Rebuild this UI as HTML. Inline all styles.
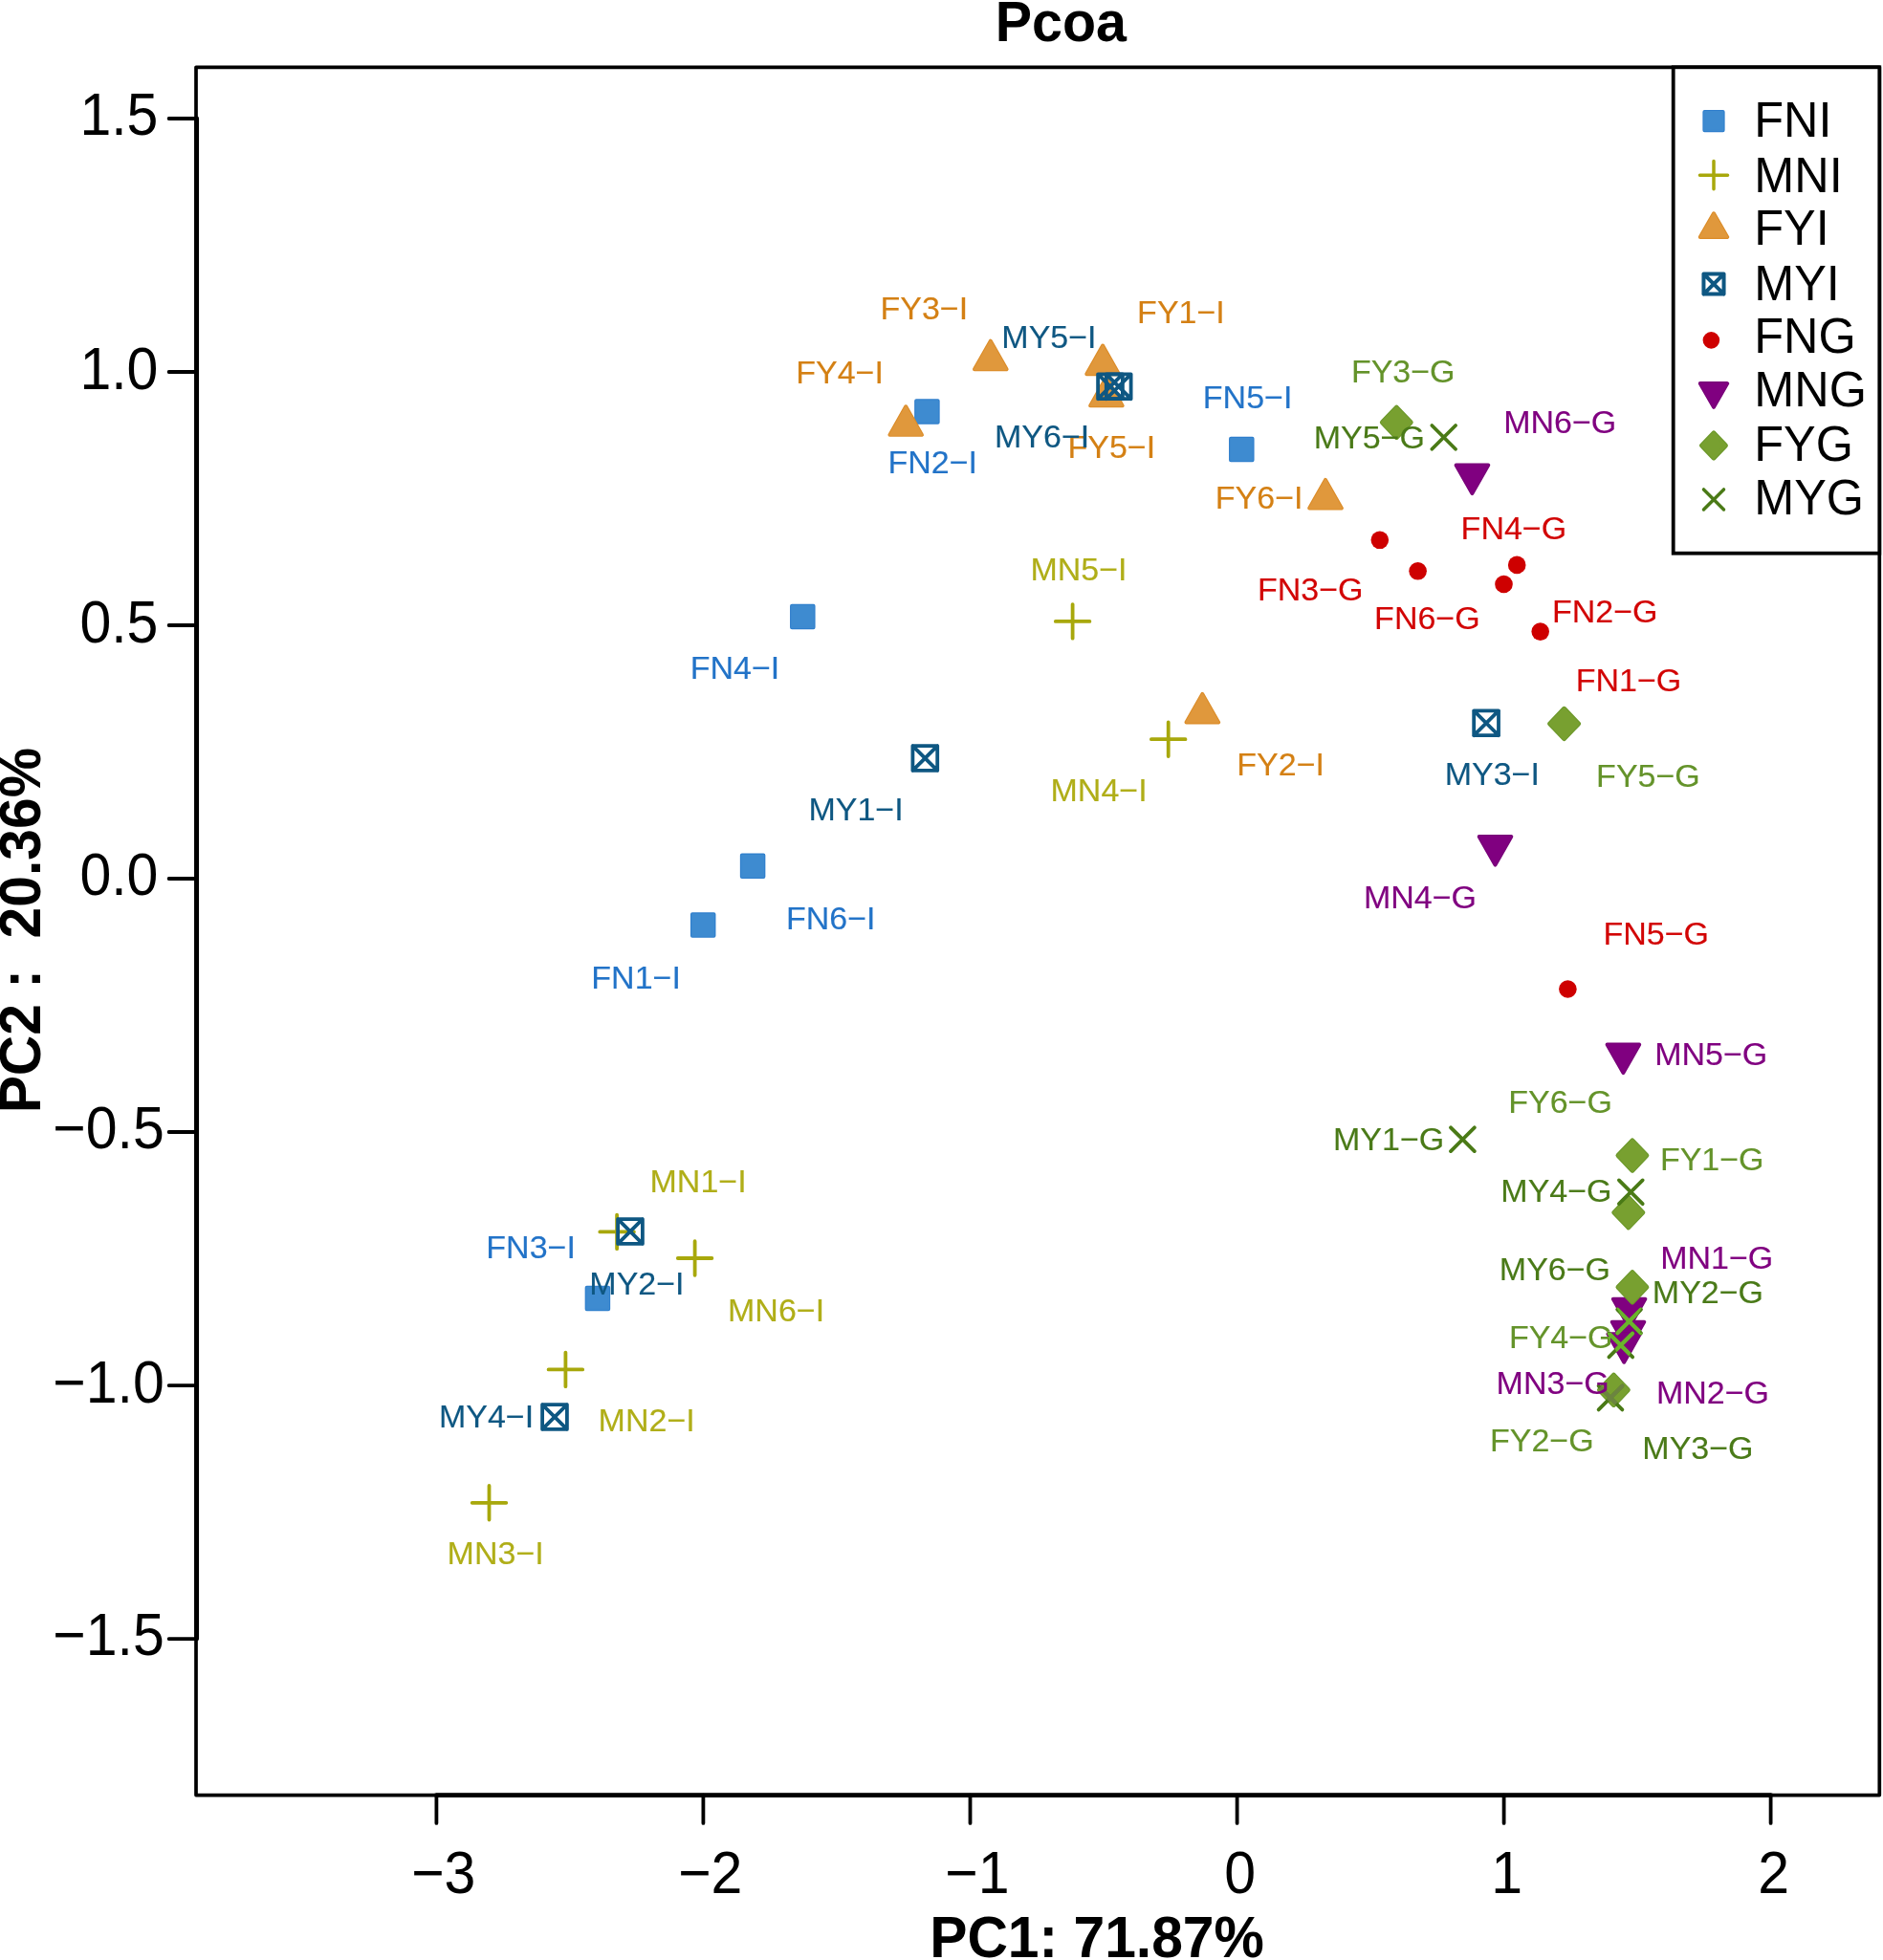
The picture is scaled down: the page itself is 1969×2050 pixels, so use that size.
<!DOCTYPE html>
<html lang="en"><head><meta charset="utf-8"><title>Pcoa</title>
<style>html,body{margin:0;padding:0;background:#fff}svg{display:block;filter:blur(0.45px)}</style>
</head><body>
<svg width="1969" height="2050" viewBox="0 0 1969 2050" font-family="'Liberation Sans', Arial, Helvetica, sans-serif">
<rect width="1969" height="2050" fill="#fff"/>
<g>
<rect x="723.95" y="956.35" width="22.5" height="22.5" fill="#3E8BD0" stroke="#2E7ECC" stroke-width="4.0" stroke-linejoin="round"/><rect x="723.95" y="956.35" width="22.5" height="22.5" fill="#3E8BD0" stroke="#3E8BD0" stroke-width="1.7999999999999998" stroke-linejoin="round"/>
<rect x="958.15" y="419.15" width="22.5" height="22.5" fill="#3E8BD0" stroke="#2E7ECC" stroke-width="4.0" stroke-linejoin="round"/><rect x="958.15" y="419.15" width="22.5" height="22.5" fill="#3E8BD0" stroke="#3E8BD0" stroke-width="1.7999999999999998" stroke-linejoin="round"/>
<rect x="613.65" y="1346.75" width="22.5" height="22.5" fill="#3E8BD0" stroke="#2E7ECC" stroke-width="4.0" stroke-linejoin="round"/><rect x="613.65" y="1346.75" width="22.5" height="22.5" fill="#3E8BD0" stroke="#3E8BD0" stroke-width="1.7999999999999998" stroke-linejoin="round"/>
<rect x="828.05" y="633.65" width="22.5" height="22.5" fill="#3E8BD0" stroke="#2E7ECC" stroke-width="4.0" stroke-linejoin="round"/><rect x="828.05" y="633.65" width="22.5" height="22.5" fill="#3E8BD0" stroke="#3E8BD0" stroke-width="1.7999999999999998" stroke-linejoin="round"/>
<rect x="1287.05" y="458.85" width="22.5" height="22.5" fill="#3E8BD0" stroke="#2E7ECC" stroke-width="4.0" stroke-linejoin="round"/><rect x="1287.05" y="458.85" width="22.5" height="22.5" fill="#3E8BD0" stroke="#3E8BD0" stroke-width="1.7999999999999998" stroke-linejoin="round"/>
<rect x="775.85" y="894.55" width="22.5" height="22.5" fill="#3E8BD0" stroke="#2E7ECC" stroke-width="4.0" stroke-linejoin="round"/><rect x="775.85" y="894.55" width="22.5" height="22.5" fill="#3E8BD0" stroke="#3E8BD0" stroke-width="1.7999999999999998" stroke-linejoin="round"/>
</g>
<g>
<path d="M627.3 1288.4H662.9M645.1 1270.6V1306.2" fill="none" stroke="#A8A80C" stroke-width="3.8" stroke-linecap="round"/>
<path d="M573.6 1432.4H609.2M591.4 1414.6V1450.2" fill="none" stroke="#A8A80C" stroke-width="3.8" stroke-linecap="round"/>
<path d="M493.7 1571.8H529.3M511.5 1554V1589.6" fill="none" stroke="#A8A80C" stroke-width="3.8" stroke-linecap="round"/>
<path d="M1203.9 773.2H1239.5M1221.7 755.4V791" fill="none" stroke="#A8A80C" stroke-width="3.8" stroke-linecap="round"/>
<path d="M1103.8 649.9H1139.4M1121.6 632.1V667.7" fill="none" stroke="#A8A80C" stroke-width="3.8" stroke-linecap="round"/>
<path d="M708.8 1316H744.4M726.6 1298.2V1333.8" fill="none" stroke="#A8A80C" stroke-width="3.8" stroke-linecap="round"/>
</g>
<g>
<path d="M1153.1 361.57L1169.9 391.17L1136.3 391.17Z" fill="#E0983C" stroke="#DC8C28" stroke-width="4.0" stroke-linejoin="round"/><path d="M1153.1 361.57L1169.9 391.17L1136.3 391.17Z" fill="#E0983C" stroke="#E0983C" stroke-width="1.7999999999999998" stroke-linejoin="round"/>
<path d="M1257.3 725.87L1274.1 755.47L1240.5 755.47Z" fill="#E0983C" stroke="#DC8C28" stroke-width="4.0" stroke-linejoin="round"/><path d="M1257.3 725.87L1274.1 755.47L1240.5 755.47Z" fill="#E0983C" stroke="#E0983C" stroke-width="1.7999999999999998" stroke-linejoin="round"/>
<path d="M1035.8 356.67L1052.6 386.27L1019 386.27Z" fill="#E0983C" stroke="#DC8C28" stroke-width="4.0" stroke-linejoin="round"/><path d="M1035.8 356.67L1052.6 386.27L1019 386.27Z" fill="#E0983C" stroke="#E0983C" stroke-width="1.7999999999999998" stroke-linejoin="round"/>
<path d="M947.2 425.27L964 454.87L930.4 454.87Z" fill="#E0983C" stroke="#DC8C28" stroke-width="4.0" stroke-linejoin="round"/><path d="M947.2 425.27L964 454.87L930.4 454.87Z" fill="#E0983C" stroke="#E0983C" stroke-width="1.7999999999999998" stroke-linejoin="round"/>
<path d="M1156.9 394.77L1173.7 424.37L1140.1 424.37Z" fill="#E0983C" stroke="#DC8C28" stroke-width="4.0" stroke-linejoin="round"/><path d="M1156.9 394.77L1173.7 424.37L1140.1 424.37Z" fill="#E0983C" stroke="#E0983C" stroke-width="1.7999999999999998" stroke-linejoin="round"/>
<path d="M1386 501.97L1402.8 531.57L1369.2 531.57Z" fill="#E0983C" stroke="#DC8C28" stroke-width="4.0" stroke-linejoin="round"/><path d="M1386 501.97L1402.8 531.57L1369.2 531.57Z" fill="#E0983C" stroke="#E0983C" stroke-width="1.7999999999999998" stroke-linejoin="round"/>
</g>
<g>
<path d="M954.4 780.1H980.2V805.9H954.4ZM954.4 780.1L980.2 805.9M954.4 805.9L980.2 780.1" fill="none" stroke="#0E5782" stroke-width="3.8" stroke-linejoin="round" stroke-linecap="round"/>
<path d="M646.1 1275.1H671.9V1300.9H646.1ZM646.1 1275.1L671.9 1300.9M646.1 1300.9L671.9 1275.1" fill="none" stroke="#0E5782" stroke-width="3.8" stroke-linejoin="round" stroke-linecap="round"/>
<path d="M1541.2 743.4H1567V769.2H1541.2ZM1541.2 743.4L1567 769.2M1541.2 769.2L1567 743.4" fill="none" stroke="#0E5782" stroke-width="3.8" stroke-linejoin="round" stroke-linecap="round"/>
<path d="M567.1 1469.1H592.9V1494.9H567.1ZM567.1 1469.1L592.9 1494.9M567.1 1494.9L592.9 1469.1" fill="none" stroke="#0E5782" stroke-width="3.8" stroke-linejoin="round" stroke-linecap="round"/>
<path d="M1148.1 391.4H1173.9V417.2H1148.1ZM1148.1 391.4L1173.9 417.2M1148.1 417.2L1173.9 391.4" fill="none" stroke="#0E5782" stroke-width="3.8" stroke-linejoin="round" stroke-linecap="round"/>
<path d="M1156.8 391.4H1182.6V417.2H1156.8ZM1156.8 391.4L1182.6 417.2M1156.8 417.2L1182.6 391.4" fill="none" stroke="#0E5782" stroke-width="3.8" stroke-linejoin="round" stroke-linecap="round"/>
</g>
<g>
<circle cx="1442.8" cy="564.8" r="9.3" fill="#CE0000"/>
<circle cx="1482.6" cy="597.3" r="9.3" fill="#CE0000"/>
<circle cx="1586.2" cy="590.9" r="9.3" fill="#CE0000"/>
<circle cx="1572.5" cy="611" r="9.3" fill="#CE0000"/>
<circle cx="1610.7" cy="660.6" r="9.3" fill="#CE0000"/>
<circle cx="1639.4" cy="1034.5" r="9.3" fill="#CE0000"/>
</g>
<g>
<path d="M1539.4 516.03L1556.2 486.43L1522.6 486.43Z" fill="#800080" stroke="#780078" stroke-width="4.0" stroke-linejoin="round"/><path d="M1539.4 516.03L1556.2 486.43L1522.6 486.43Z" fill="#800080" stroke="#800080" stroke-width="1.7999999999999998" stroke-linejoin="round"/>
<path d="M1563.5 904.53L1580.3 874.93L1546.7 874.93Z" fill="#800080" stroke="#780078" stroke-width="4.0" stroke-linejoin="round"/><path d="M1563.5 904.53L1580.3 874.93L1546.7 874.93Z" fill="#800080" stroke="#800080" stroke-width="1.7999999999999998" stroke-linejoin="round"/>
<path d="M1697.4 1122.13L1714.2 1092.53L1680.6 1092.53Z" fill="#800080" stroke="#780078" stroke-width="4.0" stroke-linejoin="round"/><path d="M1697.4 1122.13L1714.2 1092.53L1680.6 1092.53Z" fill="#800080" stroke="#800080" stroke-width="1.7999999999999998" stroke-linejoin="round"/>
<path d="M1703.6 1388.23L1720.4 1358.63L1686.8 1358.63Z" fill="#800080" stroke="#780078" stroke-width="4.0" stroke-linejoin="round"/><path d="M1703.6 1388.23L1720.4 1358.63L1686.8 1358.63Z" fill="#800080" stroke="#800080" stroke-width="1.7999999999999998" stroke-linejoin="round"/>
<path d="M1702.5 1412.23L1719.3 1382.63L1685.7 1382.63Z" fill="#800080" stroke="#780078" stroke-width="4.0" stroke-linejoin="round"/><path d="M1702.5 1412.23L1719.3 1382.63L1685.7 1382.63Z" fill="#800080" stroke="#800080" stroke-width="1.7999999999999998" stroke-linejoin="round"/>
<path d="M1698.2 1424.73L1715 1395.13L1681.4 1395.13Z" fill="#800080" stroke="#780078" stroke-width="4.0" stroke-linejoin="round"/><path d="M1698.2 1424.73L1715 1395.13L1681.4 1395.13Z" fill="#800080" stroke="#800080" stroke-width="1.7999999999999998" stroke-linejoin="round"/>
</g>
<g>
<path d="M1460.3 426.18L1475.21 441.8L1460.3 457.42L1445.39 441.8Z" fill="#78A030" stroke="#6C982A" stroke-width="5.0" stroke-linejoin="round"/><path d="M1460.3 426.18L1475.21 441.8L1460.3 457.42L1445.39 441.8Z" fill="#78A030" stroke="#78A030" stroke-width="2.8" stroke-linejoin="round"/>
<path d="M1635.6 741.28L1650.51 756.9L1635.6 772.52L1620.69 756.9Z" fill="#78A030" stroke="#6C982A" stroke-width="5.0" stroke-linejoin="round"/><path d="M1635.6 741.28L1650.51 756.9L1635.6 772.52L1620.69 756.9Z" fill="#78A030" stroke="#78A030" stroke-width="2.8" stroke-linejoin="round"/>
<path d="M1706.9 1192.98L1721.81 1208.6L1706.9 1224.22L1691.99 1208.6Z" fill="#78A030" stroke="#6C982A" stroke-width="5.0" stroke-linejoin="round"/><path d="M1706.9 1192.98L1721.81 1208.6L1706.9 1224.22L1691.99 1208.6Z" fill="#78A030" stroke="#78A030" stroke-width="2.8" stroke-linejoin="round"/>
<path d="M1702.8 1252.58L1717.71 1268.2L1702.8 1283.82L1687.89 1268.2Z" fill="#78A030" stroke="#6C982A" stroke-width="5.0" stroke-linejoin="round"/><path d="M1702.8 1252.58L1717.71 1268.2L1702.8 1283.82L1687.89 1268.2Z" fill="#78A030" stroke="#78A030" stroke-width="2.8" stroke-linejoin="round"/>
<path d="M1706.9 1330.68L1721.81 1346.3L1706.9 1361.92L1691.99 1346.3Z" fill="#78A030" stroke="#6C982A" stroke-width="5.0" stroke-linejoin="round"/><path d="M1706.9 1330.68L1721.81 1346.3L1706.9 1361.92L1691.99 1346.3Z" fill="#78A030" stroke="#78A030" stroke-width="2.8" stroke-linejoin="round"/>
<path d="M1687.4 1438.18L1702.31 1453.8L1687.4 1469.42L1672.49 1453.8Z" fill="#78A030" stroke="#6C982A" stroke-width="5.0" stroke-linejoin="round"/><path d="M1687.4 1438.18L1702.31 1453.8L1687.4 1469.42L1672.49 1453.8Z" fill="#78A030" stroke="#78A030" stroke-width="2.8" stroke-linejoin="round"/>
</g>
<g>
<path d="M1497.32 445.01L1522.09 469.78M1497.32 469.78L1522.09 445.01" fill="none" stroke="#4A7A16" stroke-width="3.8" stroke-linecap="round"/>
<path d="M1517.02 1179.32L1541.79 1204.09M1517.02 1204.09L1541.79 1179.32" fill="none" stroke="#4A7A16" stroke-width="3.8" stroke-linecap="round"/>
<path d="M1692.91 1234.41L1717.68 1259.18M1692.91 1259.18L1717.68 1234.41" fill="none" stroke="#4A7A16" stroke-width="3.8" stroke-linecap="round"/>
<path d="M1691.21 1369.62L1715.98 1394.38M1691.21 1394.38L1715.98 1369.62" fill="none" stroke="#4A7A16" stroke-width="3.8" stroke-linecap="round"/>
<path d="M1682.41 1394.62L1707.18 1419.38M1682.41 1419.38L1707.18 1394.62" fill="none" stroke="#4A7A16" stroke-width="3.8" stroke-linecap="round"/>
<path d="M1671.62 1449.62L1696.38 1474.38M1671.62 1474.38L1696.38 1449.62" fill="none" stroke="#4A7A16" stroke-width="3.8" stroke-linecap="round"/>
</g>
<defs>
<clipPath id="cpTri"><path d="M1703.6 1390.8L1723.1 1357.35L1684.1 1357.35ZM1702.5 1414.8L1722 1381.35L1683 1381.35ZM1698.2 1427.3L1717.7 1393.85L1678.7 1393.85Z"/></clipPath>
<clipPath id="cpDia"><path d="M1687.4 1436.8L1704.4 1453.8L1687.4 1470.8L1670.4 1453.8Z"/></clipPath>
</defs>
<g clip-path="url(#cpTri)"><path d="M1691.38 1369.79L1715.81 1394.21M1691.38 1394.21L1715.81 1369.79" fill="none" stroke="#6AB42C" stroke-width="4.2" stroke-linecap="round"/><path d="M1682.59 1394.79L1707.01 1419.21M1682.59 1419.21L1707.01 1394.79" fill="none" stroke="#6AB42C" stroke-width="4.2" stroke-linecap="round"/></g>
<g clip-path="url(#cpDia)"><path d="M1671.74 1449.74L1696.26 1474.26M1671.74 1474.26L1696.26 1449.74" fill="none" stroke="#6C8440" stroke-width="4.1" stroke-linecap="round"/></g>
<g font-size="34.0" fill="#2273C8" stroke="#2273C8" stroke-width="0.15">
<text transform="translate(618.31 1033.6) scale(1 1.0)">FN1−I</text>
<text transform="translate(928.51 494.5) scale(1 1.0)">FN2−I</text>
<text transform="translate(508.31 1315.9) scale(1 1.0)">FN3−I</text>
<text transform="translate(721.71 709.5) scale(1 1.0)">FN4−I</text>
<text transform="translate(1257.81 426.9) scale(1 1.0)">FN5−I</text>
<text transform="translate(821.91 972.1) scale(1 1.0)">FN6−I</text>
</g>
<g font-size="34.0" fill="#B0AE18" stroke="#B0AE18" stroke-width="0.15">
<text transform="translate(679.51 1246.9) scale(1 1.0)">MN1−I</text>
<text transform="translate(625.61 1496.5) scale(1 1.0)">MN2−I</text>
<text transform="translate(467.61 1635.9) scale(1 1.0)">MN3−I</text>
<text transform="translate(1098.51 838.2) scale(1 1.0)">MN4−I</text>
<text transform="translate(1077.41 606.6) scale(1 1.0)">MN5−I</text>
<text transform="translate(761.01 1381.5) scale(1 1.0)">MN6−I</text>
</g>
<g font-size="34.0" fill="#D48014" stroke="#D48014" stroke-width="0.15">
<text transform="translate(1189.11 337.8) scale(1 1.0)">FY1−I</text>
<text transform="translate(1293.31 810.8) scale(1 1.0)">FY2−I</text>
<text transform="translate(920.51 333.9) scale(1 1.0)">FY3−I</text>
<text transform="translate(832.21 400.9) scale(1 1.0)">FY4−I</text>
<text transform="translate(1116.51 478.6) scale(1 1.0)">FY5−I</text>
<text transform="translate(1270.81 532) scale(1 1.0)">FY6−I</text>
</g>
<g font-size="34.0" fill="#0E5782" stroke="#0E5782" stroke-width="0.15">
<text transform="translate(845.41 858.3) scale(1 1.0)">MY1−I</text>
<text transform="translate(616.31 1353.6) scale(1 1.0)">MY2−I</text>
<text transform="translate(1510.71 821) scale(1 1.0)">MY3−I</text>
<text transform="translate(458.91 1492.8) scale(1 1.0)">MY4−I</text>
<text transform="translate(1047.31 363.9) scale(1 1.0)">MY5−I</text>
<text transform="translate(1040.01 468.4) scale(1 1.0)">MY6−I</text>
</g>
<g font-size="34.0" fill="#D20404" stroke="#D20404" stroke-width="0.15">
<text transform="translate(1647.71 722.8) scale(1 1.0)">FN1−G</text>
<text transform="translate(1623.01 651.1) scale(1 1.0)">FN2−G</text>
<text transform="translate(1315.01 627.9) scale(1 1.0)">FN3−G</text>
<text transform="translate(1527.61 563.9) scale(1 1.0)">FN4−G</text>
<text transform="translate(1676.41 988.1) scale(1 1.0)">FN5−G</text>
<text transform="translate(1437.11 657.8) scale(1 1.0)">FN6−G</text>
</g>
<g font-size="34.0" fill="#800080" stroke="#800080" stroke-width="0.15">
<text transform="translate(1736.21 1326.9) scale(1 1.0)">MN1−G</text>
<text transform="translate(1731.91 1468.2) scale(1 1.0)">MN2−G</text>
<text transform="translate(1564.61 1458.4) scale(1 1.0)">MN3−G</text>
<text transform="translate(1425.91 950.1) scale(1 1.0)">MN4−G</text>
<text transform="translate(1730.21 1113.9) scale(1 1.0)">MN5−G</text>
<text transform="translate(1572.21 453) scale(1 1.0)">MN6−G</text>
</g>
<g font-size="34.0" fill="#64932A" stroke="#64932A" stroke-width="0.15">
<text transform="translate(1735.91 1224) scale(1 1.0)">FY1−G</text>
<text transform="translate(1558.01 1518.1) scale(1 1.0)">FY2−G</text>
<text transform="translate(1412.91 399.8) scale(1 1.0)">FY3−G</text>
<text transform="translate(1577.91 1410.2) scale(1 1.0)">FY4−G</text>
<text transform="translate(1669.11 822.6) scale(1 1.0)">FY5−G</text>
<text transform="translate(1577.21 1164.4) scale(1 1.0)">FY6−G</text>
</g>
<g font-size="34.0" fill="#4A7A18" stroke="#4A7A18" stroke-width="0.15">
<text transform="translate(1394.01 1202.6) scale(1 1.0)">MY1−G</text>
<text transform="translate(1727.81 1363) scale(1 1.0)">MY2−G</text>
<text transform="translate(1717.31 1526.1) scale(1 1.0)">MY3−G</text>
<text transform="translate(1569.31 1257.4) scale(1 1.0)">MY4−G</text>
<text transform="translate(1373.71 468.9) scale(1 1.0)">MY5−G</text>
<text transform="translate(1567.81 1338.8) scale(1 1.0)">MY6−G</text>
</g>
<g clip-path="url(#cpTri)" font-size="34.0" fill="#6AB42C" stroke="#6AB42C" stroke-width="0.15"><text transform="translate(1577.91 1410.2) scale(1 1.0)">FY4−G</text></g>
<rect x="205.0" y="70.3" width="1760.3" height="1807.3" fill="none" stroke="#000" stroke-width="3.7" stroke-linejoin="round"/>
<path d="M456.4 1877.6H1851.6M205.6 1714.1V124.0" fill="none" stroke="#000" stroke-width="4.9" stroke-linecap="round"/>
<path d="M456.4 1877.6V1906.9M735.4 1877.6V1906.9M1014.5 1877.6V1906.9M1293.6 1877.6V1906.9M1572.6 1877.6V1906.9M1851.6 1877.6V1906.9M205.6 124.0H176.6M205.6 389.0H176.6M205.6 654.0H176.6M205.6 919.0H176.6M205.6 1184.0H176.6M205.6 1449.1H176.6M205.6 1714.1H176.6" fill="none" stroke="#000" stroke-width="3.8" stroke-linecap="round"/>
<g font-size="59.0" fill="#000">
<text transform="translate(430.17 1980) scale(1 1.07)">−3</text>
<text transform="translate(709.17 1980) scale(1 1.07)">−2</text>
<text transform="translate(988.27 1980) scale(1 1.07)">−1</text>
<text transform="translate(1296.6 1980) scale(1 1.07)" text-anchor="middle">0</text>
<text transform="translate(1575.6 1980) scale(1 1.07)" text-anchor="middle">1</text>
<text transform="translate(1854.6 1980) scale(1 1.07)" text-anchor="middle">2</text>
<text transform="translate(165.4 141.1) scale(1 1.07)" text-anchor="end">1.5</text>
<text transform="translate(165.4 407.3) scale(1 1.07)" text-anchor="end">1.0</text>
<text transform="translate(165.4 671.5) scale(1 1.07)" text-anchor="end">0.5</text>
<text transform="translate(165.4 935.8) scale(1 1.07)" text-anchor="end">0.0</text>
<text transform="translate(171.7 1201.4) scale(1 1.07)" text-anchor="end">−0.5</text>
<text transform="translate(171.7 1466.5) scale(1 1.07)" text-anchor="end">−1.0</text>
<text transform="translate(171.7 1731.4) scale(1 1.07)" text-anchor="end">−1.5</text>
</g>
<g font-size="57.4" font-weight="bold" fill="#000">
<text transform="translate(1109.3 43.3) scale(1 1.03)" text-anchor="middle">Pcoa</text>
</g>
<g font-size="58.8" font-weight="bold" fill="#000">
<text transform="translate(1147 2046.5) scale(1 1.04)" text-anchor="middle">PC1: 71.87%</text>
<text transform="translate(42.4 973.2) rotate(-90) scale(1 1.04)" text-anchor="middle" xml:space="preserve" style="white-space:pre">PC2 :  20.36%</text>
</g>
<rect x="1749.7" y="70.3" width="215.6" height="508.4" fill="#fff" stroke="#000" stroke-width="3.8"/>
<g font-size="50.4" fill="#000">
<rect x="1782.4" y="117" width="19.2" height="19.2" fill="#3E8BD0" stroke="#2E7ECC" stroke-width="4.0" stroke-linejoin="round"/><rect x="1782.4" y="117" width="19.2" height="19.2" fill="#3E8BD0" stroke="#3E8BD0" stroke-width="1.7999999999999998" stroke-linejoin="round"/>
<text transform="translate(1834.27 142.5) scale(1 1.01)">FNI</text>
<path d="M1777.45 183.15H1806.55M1792 168.6V197.7" fill="none" stroke="#A8A80C" stroke-width="3.5" stroke-linecap="round"/>
<text transform="translate(1834.27 200.95) scale(1 1.01)">MNI</text>
<path d="M1792 223.23L1806.2 247.93L1777.8 247.93Z" fill="#E0983C" stroke="#DC8C28" stroke-width="4.0" stroke-linejoin="round"/><path d="M1792 223.23L1806.2 247.93L1777.8 247.93Z" fill="#E0983C" stroke="#E0983C" stroke-width="1.7999999999999998" stroke-linejoin="round"/>
<text transform="translate(1834.27 255.6) scale(1 1.01)">FYI</text>
<path d="M1781.45 286.5H1802.55V307.6H1781.45ZM1781.45 286.5L1802.55 307.6M1781.45 307.6L1802.55 286.5" fill="none" stroke="#0E5782" stroke-width="4.0" stroke-linejoin="round" stroke-linecap="round"/>
<text transform="translate(1834.27 313.55) scale(1 1.01)">MYI</text>
<circle cx="1789.4" cy="355.85" r="8.8" fill="#CE0000"/>
<text transform="translate(1834.27 368.7) scale(1 1.01)">FNG</text>
<path d="M1792 425.82L1806.2 401.12L1777.8 401.12Z" fill="#800080" stroke="#780078" stroke-width="4.0" stroke-linejoin="round"/><path d="M1792 425.82L1806.2 401.12L1777.8 401.12Z" fill="#800080" stroke="#800080" stroke-width="1.7999999999999998" stroke-linejoin="round"/>
<text transform="translate(1834.27 425.25) scale(1 1.01)">MNG</text>
<path d="M1792 452.9L1804.41 465.9L1792 478.9L1779.59 465.9Z" fill="#78A030" stroke="#6C982A" stroke-width="5.0" stroke-linejoin="round"/><path d="M1792 452.9L1804.41 465.9L1792 478.9L1779.59 465.9Z" fill="#78A030" stroke="#78A030" stroke-width="2.8" stroke-linejoin="round"/>
<text transform="translate(1834.27 481.8) scale(1 1.01)">FYG</text>
<path d="M1781.49 511.94L1802.51 532.96M1781.49 532.96L1802.51 511.94" fill="none" stroke="#4A7A16" stroke-width="3.5" stroke-linecap="round"/>
<text transform="translate(1834.27 538.35) scale(1 1.01)">MYG</text>
</g>
</svg>
</body></html>
